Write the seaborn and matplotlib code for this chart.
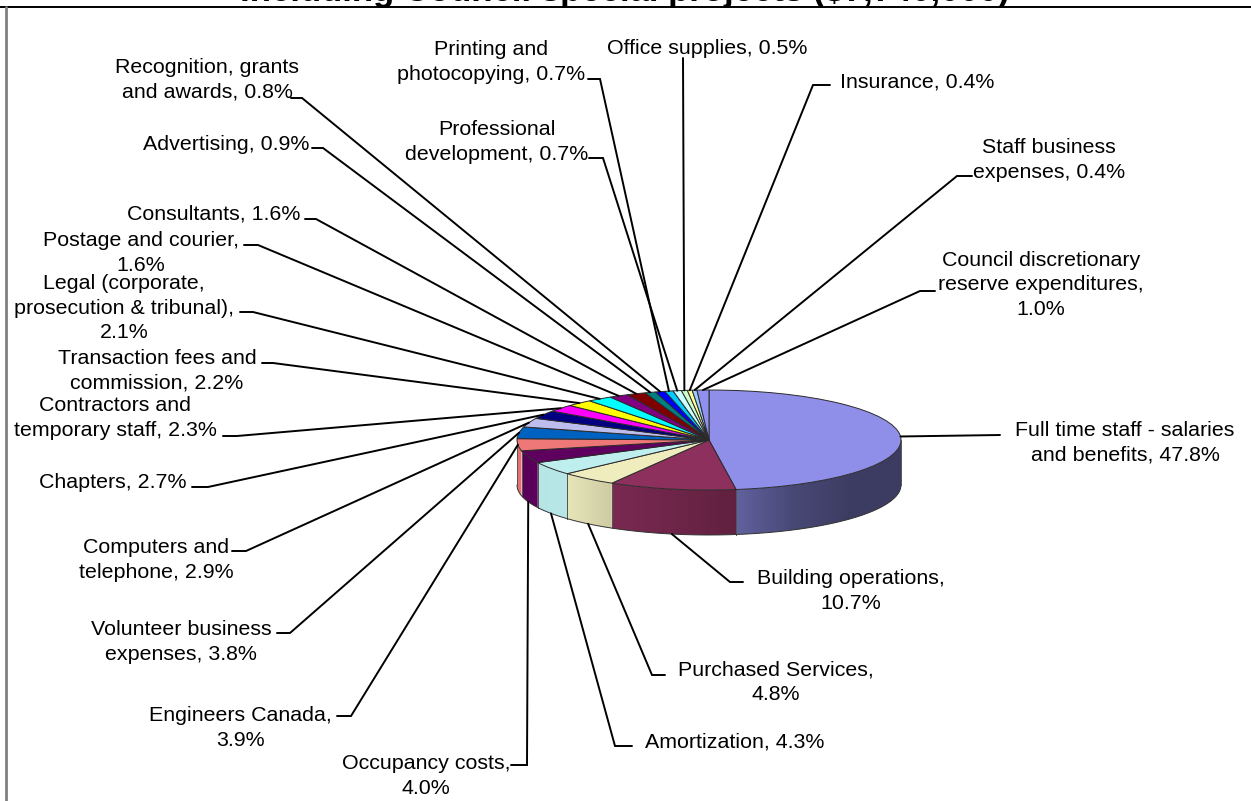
import numpy as np
import matplotlib
matplotlib.use("Agg")
import matplotlib.pyplot as plt
from matplotlib.colors import to_rgb
from matplotlib.patches import Polygon
import seaborn as sns

# Expense categories, clockwise from twelve o'clock
categories = [
    "Full time staff - salaries\nand benefits", "Building operations,\n", "Purchased Services,\n",
    "Amortization", "Occupancy costs,\n", "Engineers Canada,\n", "Volunteer business\nexpenses",
    "Computers and\ntelephone", "Chapters", "Contractors and\ntemporary staff",
    "Transaction fees and\ncommission", "Legal (corporate,\nprosecution & tribunal),\n",
    "Postage and courier,\n", "Consultants", "Advertising", "Recognition, grants\nand awards",
    "Printing and\nphotocopying", "Professional\ndevelopment", "Office supplies", "Insurance",
    "Staff business\nexpenses", "Council discretionary\nreserve expenditures,\n",
]
shares = [47.8, 10.7, 4.8, 4.3, 4.0, 3.9, 3.8, 2.9, 2.7, 2.3, 2.2, 2.1,
          1.6, 1.6, 0.9, 0.8, 0.7, 0.7, 0.5, 0.4, 0.4, 1.0]
slice_hex = ["#8F8FEA", "#8E305E", "#EFECBE", "#BEEEEE", "#5E005E", "#EE7777", "#0062C0",
             "#BEBEEE", "#000080", "#FF00FF", "#FFFF00", "#00FFFF", "#800080", "#800000",
             "#008080", "#0000FF", "#00CCFF", "#CCFFFF", "#CCFFCC", "#FFFF99", "#99CCFF", "#9090EE"]
title_text = "Including Council special projects ($7,740,000)"

# Label layout in figure pixels: text centre, then the elbow and tip of its leader
text_xy = [(1125, 443), (851, 591), (776, 682), (735, 742), (426, 776), (240, 728), (181, 642),
           (156, 560), (113, 483), (115, 418), (157, 371), (124, 308), (141, 253), (214, 214),
           (226, 144), (207, 80), (491, 62), (497, 142), (707, 49), (917, 82), (1049, 160), (1041, 285)]
elbow_xy = [(1000, 435), (730, 582), (652, 675), (615, 746), (527, 765), (351, 716), (290, 633),
            (246, 551), (208, 487), (237, 436), (273, 363), (253, 312), (258, 245), (316, 219),
            (323, 148), (302, 98), (600, 79), (603, 158), (683, 58), (813, 85), (957, 176), (920, 291)]
tip_xy = [(1000, 435), (743, 582), (665, 675), (632, 746), (511, 765), (337, 716), (277, 633),
          (232, 551), (192, 487), (223, 436), (262, 363), (240, 312), (244, 245), (305, 219),
          (312, 148), (291, 98), (588, 79), (589, 158), (683, 58), (830, 85), (972, 176), (935, 291)]

WIDTH, HEIGHT = 1251, 801
CX, CY, RX, RY, DEPTH = 709.0, 440.0, 192.0, 50.0, 45.0

sns.set_theme(style="white")
plt.rcParams["font.family"] = ["Liberation Sans", "DejaVu Sans"]
palette = sns.color_palette(slice_hex)

fig = plt.figure(figsize=(WIDTH / 100, HEIGHT / 100), dpi=100, facecolor="white")

# Pie axes: unit circle squashed into the ellipse of the tilted disc
ax = fig.add_axes([0, 0, 1, 1])
wedges, _ = ax.pie(shares, colors=palette, startangle=90, counterclock=False, radius=1.0,
                   wedgeprops=dict(edgecolor="#2a2a2a", linewidth=0.7))
for w in wedges:
    w.set_zorder(5)
xlim = ((0 - CX) / RX, (WIDTH - CX) / RX)
ylim = ((CY - HEIGHT) / RY, (CY - 0) / RY)
ax.set_axis_off()

edges_deg = np.concatenate([[0.0], np.cumsum(shares)]) * 360.0 / sum(shares)
drop = DEPTH / RY


def side_shade(sin_theta):
    """Brightness of the rim as it turns away from the light on the left."""
    return np.interp(sin_theta, [-1.0, -0.74, -0.5, 0.14, 0.45, 0.75, 1.0],
                     [0.96, 0.97, 0.86, 0.68, 0.50, 0.42, 0.42])


# Outer rim of the disc: one horizontal gradient per slice, clipped to the slice's band
for start, stop, colour in zip(edges_deg[:-1], edges_deg[1:], palette):
    lo, hi = max(start, 90.0), min(stop, 270.0)
    if hi <= lo:
        continue
    t = np.radians(np.linspace(lo, hi, 60))
    xs, ys = np.sin(t), np.cos(t)
    band = Polygon(np.column_stack([np.r_[xs, xs[::-1]], np.r_[ys, ys[::-1] - drop]]),
                   closed=True, transform=ax.transData, facecolor="none", edgecolor="none")
    ax.add_patch(band)
    x0, x1 = xs.min(), xs.max()
    grad_x = np.linspace(x0, x1, 200)
    shade = side_shade(grad_x)[None, :, None]
    rgb = np.clip(np.array(to_rgb(colour))[None, None, :] * shade, 0, 1)
    img = ax.imshow(rgb, extent=(x0, x1, -1 - drop, 1), aspect="auto", origin="lower",
                    interpolation="bilinear", zorder=2)
    img.set_clip_path(band)
    # seam between neighbouring slices on the rim
    for e in (lo, hi):
        ex, ey = np.sin(np.radians(e)), np.cos(np.radians(e))
        ax.plot([ex, ex], [ey, ey - drop], color="#555555", lw=0.7, zorder=3)

t = np.radians(np.linspace(90, 270, 200))
ax.plot(np.sin(t), np.cos(t) - drop, color="#333333", lw=0.7, zorder=3)

ax.set_aspect("auto")
ax.set_xlim(*xlim)
ax.set_ylim(*ylim)

# Overlay in pixel coordinates for frame, title, leaders and labels
over = fig.add_axes([0, 0, 1, 1], facecolor="none")
over.set_xlim(0, WIDTH)
over.set_ylim(HEIGHT, 0)
over.set_axis_off()

over.plot([0, WIDTH], [7, 7], color="black", lw=1.4, zorder=1)
over.plot([5.5, 5.5], [7, HEIGHT], color="#808080", lw=2.0, zorder=1)
over.text(625, 1, title_text, ha="center", va="baseline", fontsize=25, fontweight="bold",
          color="black", clip_on=True, zorder=6)

cum = np.cumsum(shares) - np.array(shares) / 2
mid_deg = cum * 360.0 / sum(shares)
for name, share, mid, txy, exy, tip in zip(categories, shares, mid_deg, text_xy, elbow_xy, tip_xy):
    rim_x = CX + RX * np.sin(np.radians(mid))
    rim_y = CY - RY * np.cos(np.radians(mid))
    if 100 < mid < 260:
        rim_y += DEPTH
    over.plot([rim_x, exy[0], tip[0]], [rim_y, exy[1], tip[1]], color="black", lw=1.4,
              solid_joinstyle="miter", zorder=4)
    if name.endswith("\n"):
        label = f"{name}{share:.1f}%"
    else:
        label = f"{name}, {share:.1f}%"
    over.text(txy[0], txy[1], label, ha="center", va="center", ma="center", fontsize=15.4,
              color="black", linespacing=1.34, zorder=6)

fig.savefig("out.png", dpi=100, facecolor="white")
